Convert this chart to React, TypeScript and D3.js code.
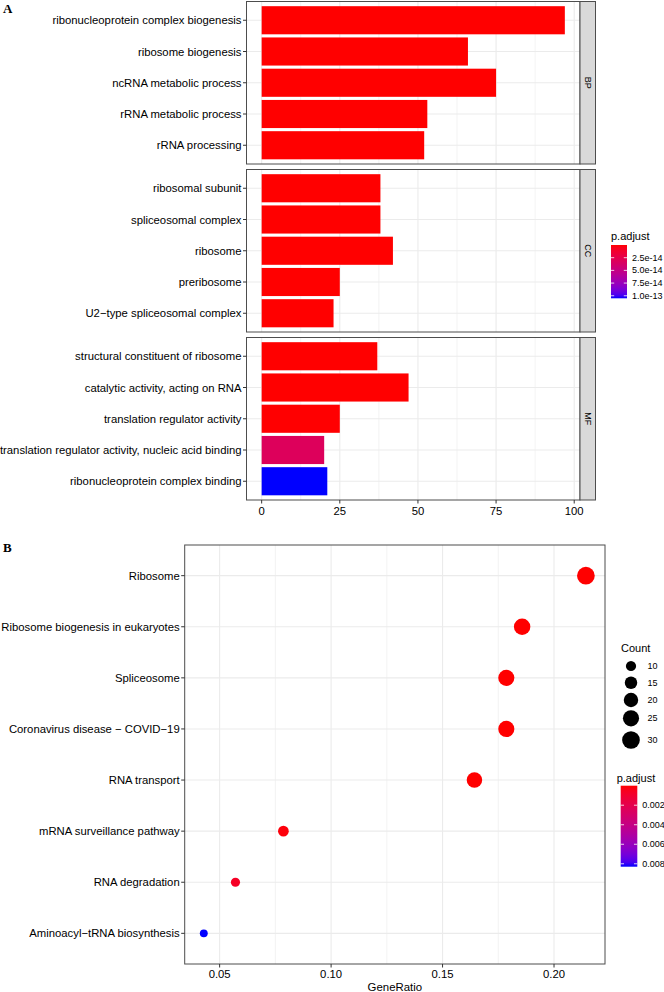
import React from "react";
import * as d3 from "d3";

// ---------- Panel A data (GO enrichment bar chart) ----------
const goOntology = ["BP", "BP", "BP", "BP", "BP", "CC", "CC", "CC", "CC", "CC", "MF", "MF", "MF", "MF", "MF"];
const goTerms = [
  "ribonucleoprotein complex biogenesis",
  "ribosome biogenesis",
  "ncRNA metabolic process",
  "rRNA metabolic process",
  "rRNA processing",
  "ribosomal subunit",
  "spliceosomal complex",
  "ribosome",
  "preribosome",
  "U2\u2212type spliceosomal complex",
  "structural constituent of ribosome",
  "catalytic activity, acting on RNA",
  "translation regulator activity",
  "translation regulator activity, nucleic acid binding",
  "ribonucleoprotein complex binding",
];
const goCounts = [97, 66, 75, 53, 52, 38, 38, 42, 25, 23, 37, 47, 25, 20, 21];
const goPadj = [1e-40, 1e-35, 1e-33, 1e-30, 1e-29, 1e-25, 1e-22, 1e-21, 1e-20, 1e-18, 1e-24, 1e-19, 1e-16, 3.15e-14, 1.05e-13];
const ontologies = ["BP", "CC", "MF"];
const goAxisTicks = [0, 25, 50, 75, 100];
const goMinorTicks = [12.5, 37.5, 62.5, 87.5];
const goLegendTicks = [2.5e-14, 5.0e-14, 7.5e-14, 1.0e-13];

// ---------- Panel B data (KEGG dot plot) ----------
const keggTerms = [
  "Ribosome",
  "Ribosome biogenesis in eukaryotes",
  "Spliceosome",
  "Coronavirus disease \u2212 COVID\u221219",
  "RNA transport",
  "mRNA surveillance pathway",
  "RNA degradation",
  "Aminoacyl\u2212tRNA biosynthesis",
];
const keggRatio = [0.2143, 0.1857, 0.1786, 0.1786, 0.1643, 0.0786, 0.0571, 0.0429];
const keggCount = [30, 26, 25, 25, 23, 11, 8, 6];
const keggPadj = [1e-12, 1e-10, 1e-9, 1e-8, 1e-6, 1.5e-4, 7e-4, 8.3e-3];
const keggAxisTicks = [0.05, 0.1, 0.15, 0.2];
const keggMinorTicks = [0.075, 0.125, 0.175];
const countLegend = [10, 15, 20, 25, 30];
const keggLegendTicks = [0.002, 0.004, 0.006, 0.008];

const FONT = "'Liberation Sans', Arial, Helvetica, sans-serif";
const GRID = "#EBEBEB";
const BORDER = "#4d4d4d";
const TXT = "#000";

function Colorbar({ x, y, w, h, domain, ticks, fmt, id }) {
  const s = d3.scaleLinear().domain(domain).range([y, y + h]);
  const stops = d3.range(0, 1.0001, 0.05);
  const interp = d3.interpolateLab("red", "blue");
  return (
    <g>
      <defs>
        <linearGradient id={id} x1="0" y1="0" x2="0" y2="1">
          {stops.map((t) => (
            <stop key={t} offset={t} stopColor={interp(t)} />
          ))}
        </linearGradient>
      </defs>
      <rect x={x} y={y} width={w} height={h} fill={`url(#${id})`} />
      {ticks.map((t) => (
        <g key={t}>
          <line x1={x} x2={x + w / 5} y1={s(t)} y2={s(t)} stroke="white" strokeWidth={0.8} />
          <line x1={x + w - w / 5} x2={x + w} y1={s(t)} y2={s(t)} stroke="white" strokeWidth={0.8} />
          <text x={x + w + 5} y={s(t)} dominantBaseline="central" fontSize={9} fill={TXT}>
            {fmt(t)}
          </text>
        </g>
      ))}
    </g>
  );
}

function PanelA() {
  const xMax = d3.max(goCounts);
  const x = d3.scaleLinear().domain([-0.05 * xMax, xMax * 1.05]).range([246.5, 580]);
  const panelTops = [1.5, 169.5, 337.5];
  const panelH = 162.5;
  const stripW = 15.5;
  const left = x.range()[0];
  const right = x.range()[1];
  const padjExt = [0, d3.max(goPadj)];
  const color = d3.scaleLinear().domain(padjExt).range([0, 1]);
  const interp = d3.interpolateLab("red", "blue");
  return (
    <g fontFamily={FONT}>
      <text x={3} y={13} fontFamily="'Liberation Serif', 'Times New Roman', serif" fontWeight="bold" fontSize={13}>
        A
      </text>
      {ontologies.map((ont, fi) => {
        const idx = goOntology.map((o, i) => (o === ont ? i : -1)).filter((i) => i >= 0);
        const top = panelTops[fi];
        const y = d3.scalePoint().domain(idx.map((i) => goTerms[i])).range([top, top + panelH]).padding(0.6);
        const bh = y.step() * 0.9;
        return (
          <g key={ont}>
            <rect x={left} y={top} width={right - left} height={panelH} fill="white" />
            {goMinorTicks.map((t) => (
              <line key={"m" + t} x1={x(t)} x2={x(t)} y1={top} y2={top + panelH} stroke={GRID} strokeWidth={0.6} />
            ))}
            {goAxisTicks.map((t) => (
              <line key={"M" + t} x1={x(t)} x2={x(t)} y1={top} y2={top + panelH} stroke={GRID} strokeWidth={1.1} />
            ))}
            {idx.map((i) => (
              <line key={"h" + i} x1={left} x2={right} y1={y(goTerms[i])} y2={y(goTerms[i])} stroke={GRID} strokeWidth={1.1} />
            ))}
            {idx.map((i) => (
              <rect
                key={"b" + i}
                x={x(0)}
                y={y(goTerms[i]) - bh / 2}
                width={x(goCounts[i]) - x(0)}
                height={bh}
                fill={interp(color(goPadj[i]))}
              />
            ))}
            <rect x={left} y={top} width={right - left} height={panelH} fill="none" stroke={BORDER} strokeWidth={1} />
            {idx.map((i) => (
              <g key={"l" + i}>
                <line x1={left - 3.5} x2={left} y1={y(goTerms[i])} y2={y(goTerms[i])} stroke="#333" strokeWidth={1} />
                <text x={left - 5} y={y(goTerms[i])} textAnchor="end" dominantBaseline="central" fontSize={11.3} fill={TXT}>
                  {goTerms[i]}
                </text>
              </g>
            ))}
            <rect x={right} y={top} width={stripW} height={panelH} fill="#D9D9D9" stroke={BORDER} strokeWidth={1} />
            <text
              transform={`translate(${right + stripW / 2},${top + panelH / 2}) rotate(90)`}
              textAnchor="middle"
              dominantBaseline="central"
              fontSize={9}
              fill={TXT}
            >
              {ont}
            </text>
          </g>
        );
      })}
      {goAxisTicks.map((t) => (
        <g key={"xt" + t}>
          <line x1={x(t)} x2={x(t)} y1={500} y2={503.5} stroke="#333" strokeWidth={1} />
          <text x={x(t)} y={511} textAnchor="middle" dominantBaseline="central" fontSize={11.3} fill={TXT}>
            {t}
          </text>
        </g>
      ))}
      <text x={611} y={240} fontSize={11} fill={TXT}>
        p.adjust
      </text>
      <Colorbar x={611} y={245} w={16} h={53.3} domain={padjExt} ticks={goLegendTicks} fmt={d3.format(".1e")} id="gA" />
    </g>
  );
}

function PanelB() {
  const ext = d3.extent(keggRatio);
  const pad = (ext[1] - ext[0]) * 0.05;
  const x = d3.scaleLinear().domain([ext[0] - pad, ext[1] + pad]).range([184.7, 605]);
  const top = 545;
  const bottom = 964;
  const y = d3.scalePoint().domain(keggTerms).range([top, bottom]).padding(0.6);
  const r = d3.scaleSqrt().domain([0, 30]).range([0, 8.85]);
  const padjExt = [0, d3.max(keggPadj)];
  const color = d3.scaleLinear().domain(padjExt).range([0, 1]);
  const interp = d3.interpolateLab("red", "blue");
  const left = x.range()[0];
  const right = x.range()[1];
  return (
    <g fontFamily={FONT}>
      <text x={3} y={552} fontFamily="'Liberation Serif', 'Times New Roman', serif" fontWeight="bold" fontSize={13}>
        B
      </text>
      <rect x={left} y={top} width={right - left} height={bottom - top} fill="white" />
      {keggMinorTicks.map((t) => (
        <line key={"m" + t} x1={x(t)} x2={x(t)} y1={top} y2={bottom} stroke={GRID} strokeWidth={0.6} />
      ))}
      {keggAxisTicks.map((t) => (
        <line key={"M" + t} x1={x(t)} x2={x(t)} y1={top} y2={bottom} stroke={GRID} strokeWidth={1.1} />
      ))}
      {keggTerms.map((k) => (
        <line key={"h" + k} x1={left} x2={right} y1={y(k)} y2={y(k)} stroke={GRID} strokeWidth={1.1} />
      ))}
      {keggTerms.map((k, i) => (
        <circle key={"c" + k} cx={x(keggRatio[i])} cy={y(k)} r={r(keggCount[i])} fill={interp(color(keggPadj[i]))} />
      ))}
      <rect x={left} y={top} width={right - left} height={bottom - top} fill="none" stroke={BORDER} strokeWidth={1} />
      {keggTerms.map((k) => (
        <g key={"l" + k}>
          <line x1={left - 3.5} x2={left} y1={y(k)} y2={y(k)} stroke="#333" strokeWidth={1} />
          <text x={left - 5} y={y(k)} textAnchor="end" dominantBaseline="central" fontSize={11.3} fill={TXT}>
            {k}
          </text>
        </g>
      ))}
      {keggAxisTicks.map((t) => (
        <g key={"xt" + t}>
          <line x1={x(t)} x2={x(t)} y1={bottom} y2={bottom + 3.5} stroke="#333" strokeWidth={1} />
          <text x={x(t)} y={973.5} textAnchor="middle" dominantBaseline="central" fontSize={11.3} fill={TXT}>
            {d3.format(".2f")(t)}
          </text>
        </g>
      ))}
      <text x={(left + right) / 2} y={987} textAnchor="middle" dominantBaseline="central" fontSize={11.4} fill={TXT}>
        GeneRatio
      </text>
      <text x={621} y={652} fontSize={11} fill={TXT}>
        Count
      </text>
      {countLegend.map((c, i) => {
        const cy = [666, 682.7, 700, 718.3, 740][i];
        return (
          <g key={"cl" + c}>
            <circle cx={631} cy={cy} r={r(c)} fill="black" />
            <text x={647.5} y={cy} dominantBaseline="central" fontSize={9} fill={TXT}>
              {c}
            </text>
          </g>
        );
      })}
      <text x={616.7} y={781.5} fontSize={11} fill={TXT}>
        p.adjust
      </text>
      <Colorbar x={620.7} y={785.7} w={16.6} h={81} domain={padjExt} ticks={keggLegendTicks} fmt={d3.format(".3f")} id="gB" />
    </g>
  );
}

export default function App() {
  return (
    <svg
      width={664}
      height={992}
      viewBox="0 0 664 992"
      style={{ position: "absolute", left: 0, top: 0, background: "white" }}
    >
      <rect x={0} y={0} width={664} height={992} fill="white" />
      <PanelA />
      <PanelB />
    </svg>
  );
}
